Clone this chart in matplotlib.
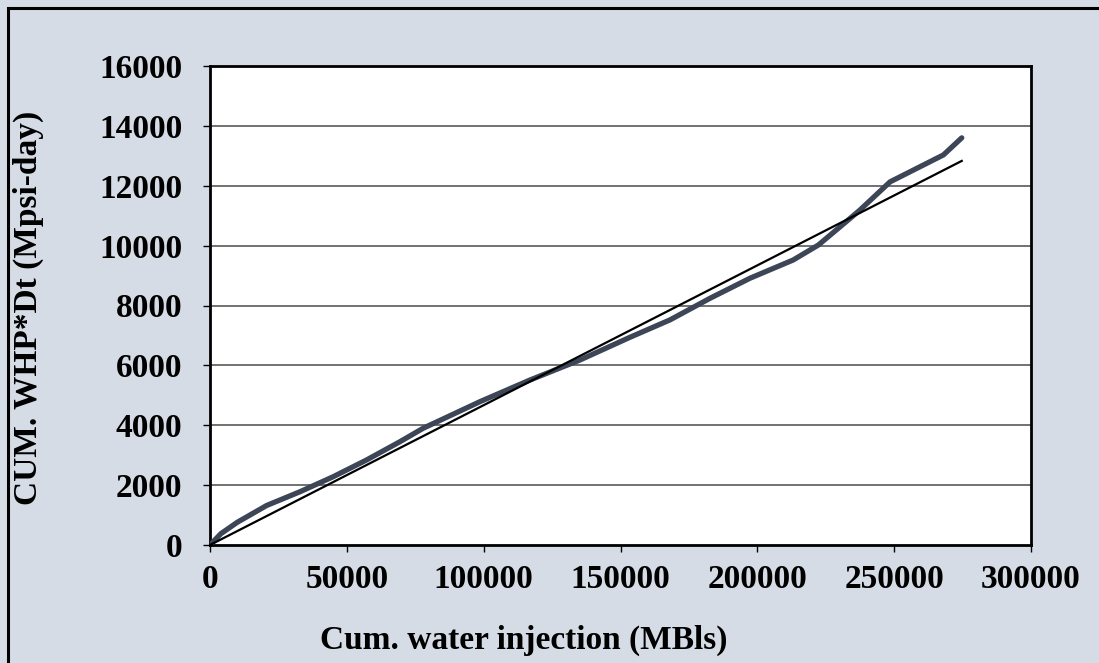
import matplotlib
matplotlib.use("Agg")
import matplotlib.pyplot as plt
from matplotlib.patches import Rectangle

# cumulative injection (MBls) vs cumulative WHP*dt (Mpsi-day)
cum_inj = [0, 4000, 10000, 20700, 32900, 45000, 57200, 69400, 77900,
           98700, 116900, 135200, 153500, 168100, 182700, 197300,
           213100, 222300, 233900, 237500, 248500, 268000, 274700]
cum_whp = [0, 380, 760, 1320, 1780, 2280, 2840, 3450, 3900,
           4790, 5510, 6180, 6940, 7520, 8240, 8910,
           9520, 10020, 10910, 11190, 12130, 13030, 13600]

# straight-line fit
trend_x = [0, 274700]
trend_y = [0, 12830]

x_ticks = [0, 50000, 100000, 150000, 200000, 250000, 300000]
y_ticks = [0, 2000, 4000, 6000, 8000, 10000, 12000, 14000, 16000]

plt.rcParams["font.family"] = ["Liberation Serif", "DejaVu Serif"]
plt.rcParams["font.weight"] = "bold"

W, H = 1099, 663
fig = plt.figure(figsize=(W / 100, H / 100), dpi=100)
fig.patch.set_facecolor("#D6DCE5")
# outer chart border (right/bottom run off the image)
fig.patches.append(Rectangle((8 / W, -0.05), 1.2, (H - 8) / H + 0.05,
                             transform=fig.transFigure, fill=False,
                             edgecolor="black", linewidth=2.2))

x0, x1, y0, y1 = 210, 1031, 66, 545
ax = fig.add_axes([x0 / W, 1 - y1 / H, (x1 - x0) / W, (y1 - y0) / H])
ax.set_facecolor("white")

for y in y_ticks[1:-1]:
    ax.axhline(y, color="#4a4a4a", linewidth=1.1, zorder=1)

ax.plot(cum_inj, cum_whp, color="#3C4657", linewidth=3.8, solid_capstyle="round", zorder=3)
ax.plot(trend_x, trend_y, color="black", linewidth=1.6, zorder=4)

ax.set_xlim(0, 300000)
ax.set_ylim(0, 16000)
ax.set_xticks(x_ticks)
ax.set_yticks(y_ticks)
ax.set_xticklabels([str(v) for v in x_ticks])
ax.set_yticklabels([str(v) for v in y_ticks])
ax.tick_params(axis="both", direction="out", length=5, width=1, labelsize=24)
ax.tick_params(axis="y", pad=15)
ax.tick_params(axis="x", pad=9)

for s in ax.spines.values():
    s.set_linewidth(2)
    s.set_color("black")

ax.set_xlabel("Cum. water injection (MBls)", fontsize=24, fontweight="bold", va="center")
ax.xaxis.set_label_coords((524 - x0) / (x1 - x0), (y1 - 640) / (y1 - y0))
ax.set_ylabel("CUM. WHP*Dt (Mpsi-day)", fontsize=24, fontweight="bold", va="center")
ax.yaxis.set_label_coords((28 - x0) / (x1 - x0), (y1 - 308) / (y1 - y0))

fig.savefig("out.png", dpi=100, facecolor=fig.get_facecolor())
